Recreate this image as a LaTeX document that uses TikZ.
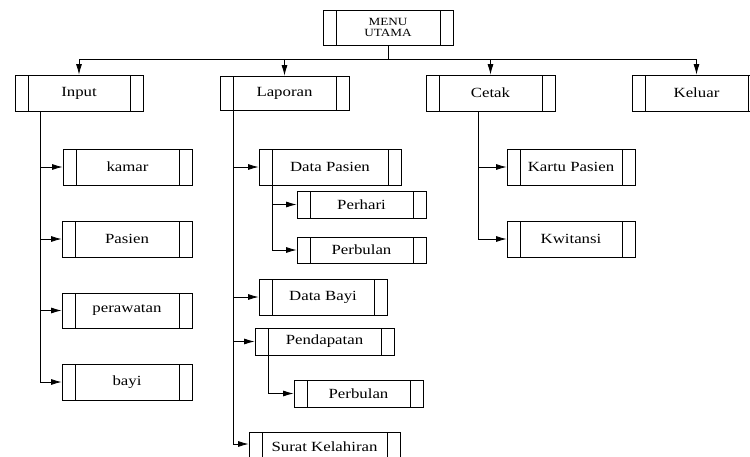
\documentclass[tikz,border=0pt]{standalone}
\usepackage{fontspec}
\setmainfont{Liberation Serif}[FakeStretch=1.2]
\usetikzlibrary{arrows.meta}
\tikzset{
  menubox/.style={draw, rectangle, inner sep=0pt, align=center,
    font=\fontsize{14}{16}\selectfont,
    path picture={
      \draw ([xshift=13pt]path picture bounding box.north west) -- ([xshift=13pt]path picture bounding box.south west);
      \draw ([xshift=-13pt]path picture bounding box.north east) -- ([xshift=-13pt]path picture bounding box.south east);
    }},
  bw/.style 2 args={minimum width=#1pt, minimum height=#2pt},
  link/.style={line width=0.8pt},
  arr/.style={line width=0.8pt, -{Latex[length=10.5pt,width=6pt]}},
}
\begin{document}
\begin{tikzpicture}[x=1pt,y=-1pt, line width=0.8pt]
\useasboundingbox (0,0) rectangle (750,456);
% top
\node[menubox, bw={130}{35}, font=\fontsize{11}{11}\selectfont] (menu) at (388,27.5) {MENU\\UTAMA};
\node[menubox, bw={128}{36}] (input) at (79,93) {Input};
\node[menubox, bw={129}{34}] (laporan) at (284.5,93) {Laporan};
\node[menubox, bw={129}{36}] (cetak) at (490.5,93) {Cetak};
\node[menubox, bw={129}{36}] (keluar) at (696.5,93) {Keluar};
% input children
\node[menubox, bw={129}{36}] (kamar) at (127.5,167) {kamar};
\node[menubox, bw={130}{36}] (pasien) at (127,239) {Pasien};
\node[menubox, bw={130}{35}] (perawatan) at (127,310.5) {perawatan};
\node[menubox, bw={130}{36}] (bayi) at (127,382) {bayi};
% laporan children
\node[menubox, bw={142}{36}] (datapasien) at (330,167) {Data Pasien};
\node[menubox, bw={129}{27}] (perhari) at (361.5,204.5) {Perhari};
\node[menubox, bw={129}{26}] (perbulana) at (361.5,250) {Perbulan};
\node[menubox, bw={128}{36}] (databayi) at (323,297) {Data Bayi};
\node[menubox, bw={139}{27}] (pendapatan) at (324.5,341.5) {Pendapatan};
\node[menubox, bw={129}{27}] (perbulanb) at (358.5,393.5) {Perbulan};
\node[menubox, bw={151}{36}, text depth=0pt] (surat) at (324.5,450) {\raisebox{6pt}{Surat Kelahiran}};
% cetak children
\node[menubox, bw={128}{36}] (kartu) at (571,167) {Kartu Pasien};
\node[menubox, bw={128}{36}] (kwitansi) at (571,239) {Kwitansi};

% bus
\draw[link] (menu.south) -- ++(0,14) coordinate (bus);
\draw[link] (input.north |- bus) -- (keluar.north |- bus);
\foreach \n in {input,laporan,cetak,keluar}
  \draw[arr] (\n.north |- bus) -- (\n.north);

% input trunk
\coordinate (it) at ([xshift=-39pt]input.south);
\draw[link] (it) -- (it |- bayi.west);
\foreach \n in {kamar,pasien,perawatan,bayi}
  \draw[arr] (it |- \n.west) -- (\n.west);

% laporan trunk
\coordinate (lt) at ([xshift=-51.5pt]laporan.south);
\coordinate (sk) at ([yshift=6pt]surat.west);
\draw[link] (lt) -- (lt |- sk);
\foreach \n in {datapasien,databayi,pendapatan}
  \draw[arr] (lt |- \n.west) -- (\n.west);
\draw[arr] (lt |- sk) -- (sk);

% data pasien trunk
\coordinate (dt) at ([xshift=-58pt]datapasien.south);
\draw[link] (dt) -- (dt |- perbulana.west);
\foreach \n in {perhari,perbulana}
  \draw[arr] (dt |- \n.west) -- (\n.west);

% pendapatan trunk
\coordinate (pt) at ([xshift=-56.5pt]pendapatan.south);
\draw[link] (pt) -- (pt |- perbulanb.west);
\draw[arr] (pt |- perbulanb.west) -- (perbulanb.west);

% cetak trunk
\coordinate (ct) at ([xshift=-12.5pt]cetak.south);
\draw[link] (ct) -- (ct |- kwitansi.west);
\foreach \n in {kartu,kwitansi}
  \draw[arr] (ct |- \n.west) -- (\n.west);
\end{tikzpicture}
\end{document}
